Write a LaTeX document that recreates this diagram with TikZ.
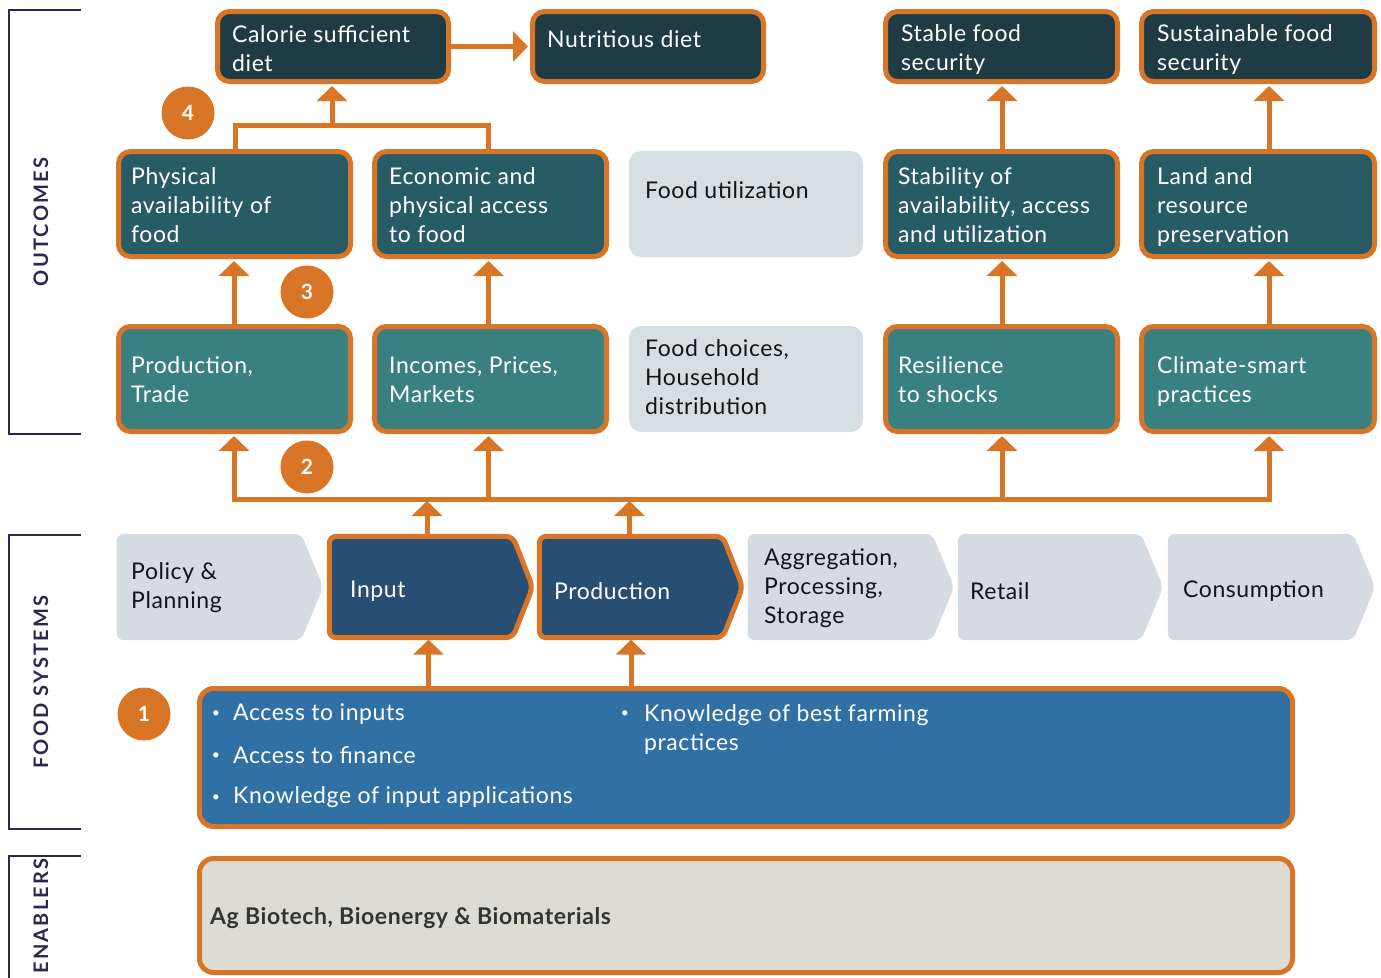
\documentclass[tikz,border=0pt]{standalone}
\usepackage{fontspec}
\setmainfont{Lato}[LetterSpace=2.5]
\newfontfamily\sidefam{Lato}
\usetikzlibrary{arrows.meta}
\definecolor{orng}{HTML}{D97527}
\definecolor{topc}{HTML}{1F3C45}
\definecolor{midc}{HTML}{275B66}
\definecolor{lowc}{HTML}{3A8080}
\definecolor{lightc}{HTML}{D5DFE2}
\definecolor{chevl}{HTML}{D5DBE3}
\definecolor{chevd}{HTML}{284E73}
\definecolor{enabc}{HTML}{3070A4}
\definecolor{biotc}{HTML}{DCDCD3}
\definecolor{brkc}{HTML}{2E2650}
\definecolor{txtd}{HTML}{333333}
\newcommand{\mainf}{\fontsize{23}{29}\selectfont}
\newcommand{\numf}{\fontsize{21}{24}\selectfont\bfseries}
\newcommand{\sidef}{\sidefam\fontsize{20}{24}\selectfont\bfseries\addfontfeature{LetterSpace=11}}
\begin{document}
\begin{tikzpicture}[x=1pt,y=-1pt,
  box/.style={draw=orng, line width=5pt, rounded corners=12pt, inner sep=0pt},
  topbox/.style={box, fill=topc, minimum width=231pt, minimum height=70pt},
  midbox/.style={box, fill=midc, minimum width=232pt, minimum height=105pt},
  lowbox/.style={box, fill=lowc, minimum width=232pt, minimum height=105pt},
  lightbox/.style={fill=lightc, rounded corners=12pt, minimum width=234pt, minimum height=106pt, inner sep=0pt},
  wtxt/.style={text=white, font=\mainf, align=left, anchor=west, inner sep=0pt},
  btxt/.style={text=black!92, font=\mainf, align=left, anchor=west, inner sep=0pt},
  conn/.style={draw=orng, line width=5pt},
  arr/.style={conn, -{Triangle[width=30pt,length=15pt]}, shorten >=2pt},
  num/.style={circle, fill=orng, minimum size=53pt, inner sep=0pt, text=white, font=\numf},
  side/.style={rotate=90, text=brkc, font=\sidef, inner sep=0pt},
  brkl/.style={draw=brkc, line width=2.5pt},
  chbody/.style={inner sep=0pt, minimum height=101pt, minimum width=203pt},
  chlbody/.style={inner sep=0pt, minimum height=106pt},
  chevdark/.style={fill=chevd, draw=orng, line width=5pt, rounded corners=7pt, line join=round},
  chevlight/.style={fill=chevl, rounded corners=7pt},
  bul/.style={text=white, font=\fontsize{14}{16}\selectfont, inner sep=0pt}
]
\useasboundingbox (0,0) rectangle (1381,977);

% side brackets
\draw[brkl] (81,10) -- (9,10) -- (9,434) -- (81,434);
\draw[brkl] (81,535) -- (9,535) -- (9,829) -- (81,829);
\draw[brkl] (81,856) -- (9,856) -- (9,980);
\node[side] (sOut) at (41,222) {OUTCOMES};
\node[side] (sFood) at (41,682) {FOOD SYSTEMS};
\node[side] (sEnab) at (41,916) {ENABLERS};

% top row
\node[topbox] (cal) at (333,46.5) {};
\node[topbox] (nut) at (648,46.5) {};
\node[topbox, minimum width=232pt] (stable) at (1001.5,46.5) {};
\node[topbox, minimum width=233pt] (sust) at (1258,46.5) {};
\node[wtxt] (calt) at (232,49) {Calorie sufficient\\diet};
\node[wtxt] (nutt) at (547,39) {Nutritious diet};
\node[wtxt] (stablet) at (901,50) {Stable food\\security};
\node[wtxt] (sustt) at (1157,50) {Sustainable food\\security};

% middle row
\node[midbox] (phys) at (234.5,204) {};
\node[midbox] (econ) at (490.5,204) {};
\node[lightbox] (util) at (746,204) {};
\node[midbox] (stabil) at (1001.5,204) {};
\node[midbox, minimum width=233pt] (land) at (1258,204) {};
\node[wtxt] (physt) at (131,205) {Physical\\availability of\\food};
\node[wtxt] (econt) at (389,205) {Economic and\\physical access\\to food};
\node[btxt] (utilt) at (645,190) {Food utilization};
\node[wtxt] (stabilt) at (898,205) {Stability of\\availability, access\\and utilization};
\node[wtxt] (landt) at (1157,207) {Land and\\resource\\preservation};

% lower row
\node[lowbox] (prodt) at (234.5,379) {};
\node[lowbox] (inc) at (490.5,379) {};
\node[lightbox] (choice) at (746,379) {};
\node[lowbox] (res) at (1001.5,379) {};
\node[lowbox, minimum width=233pt] (clim) at (1258,379) {};
\node[wtxt] (prodtt) at (131,380) {Production,\\Trade};
\node[wtxt] (inct) at (389,380) {Incomes, Prices,\\Markets};
\node[btxt] (choicet) at (645,377) {Food choices,\\Household\\distribution};
\node[wtxt] (rest) at (898,380) {Resilience\\to shocks};
\node[wtxt] (climt) at (1157,381.5) {Climate-smart\\practices};

% chevrons
\node[chlbody, minimum width=206pt] (pol) at (220,587) {};
\node[chbody] (inp) at (431,587) {};
\node[chbody] (prd) at (641,587) {};
\node[chlbody, minimum width=206pt] (agg) at (851,587) {};
\node[chlbody, minimum width=205pt] (ret) at (1060.5,587) {};
\node[chlbody, minimum width=207pt] (cons) at (1271.5,587) {};
\foreach \n in {pol,agg,ret,cons}{
  \fill[chevlight] (\n.north west) -- ([xshift=-22pt]\n.north east) -- (\n.east) -- ([xshift=-22pt]\n.south east) -- (\n.south west) -- cycle;
}
\foreach \n in {inp,prd}{
  \draw[chevdark] (\n.north west) -- ([xshift=-20pt]\n.north east) -- (\n.east) -- ([xshift=-20pt]\n.south east) -- (\n.south west) -- cycle;
}
\node[btxt] (polt) at (131,588) {Policy \&\\Planning};
\node[wtxt] (inpt) at (350,591) {Input};
\node[wtxt] (prdt) at (554,591) {Production};
\node[btxt] (aggt) at (764,588) {Aggregation,\\Processing,\\Storage};
\node[btxt] (rett) at (970,591) {Retail};
\node[btxt] (const) at (1183,591) {Consumption};

% enabler boxes
\node[box, fill=enabc, rounded corners=14pt, minimum width=1093pt, minimum height=138pt] (enab) at (746,757.5) {};
\node[box, fill=biotc, rounded corners=14pt, minimum width=1093pt, minimum height=114pt] (biot) at (746,915.5) {};
\node[bul] (b1) at (216,714) {•};
\node[bul] (b2) at (216,756) {•};
\node[bul] (b3) at (216,798) {•};
\node[bul] (b4) at (625,714) {•};
\node[wtxt] (e1) at (233,714) {Access to inputs};
\node[wtxt] (e2) at (233,755) {Access to finance};
\node[wtxt] (e3) at (233,797) {Knowledge of input applications};
\node[wtxt] (e4) at (644,729) {Knowledge of best farming\\practices};
\node[anchor=west, inner sep=0pt, text=txtd, font=\fontsize{23}{26}\selectfont\bfseries] (biott) at (210,918) {Ag Biotech, Bioenergy \& Biomaterials};

% numbers
\node[num] (n4) at (188,113) {4};
\node[num] (n3) at (307,292) {3};
\node[num] (n2) at (307,467) {2};
\node[num] (n1) at (144,714) {1};

% connectors
\draw[arr] (cal.east) -- (nut.west);
\coordinate (jL) at (235,125.5);
\coordinate (jR) at (488.5,125.5);
\coordinate (jM) at (332,125.5);
\draw[conn, line join=miter] (phys.north -| jL) -- (jL) -- (jR) -- (econ.north -| jR);
\draw[arr] (jM) -- (cal.south -| jM);

\coordinate (xA) at (234,499);
\coordinate (xB) at (488.5,499);
\coordinate (xC) at (1002,499);
\coordinate (xD) at (1269,499);
\draw[conn, line cap=rect] (xA) -- (xD);
\draw[arr] (xA) -- (prodt.south -| xA);
\draw[arr] (xB) -- (inc.south -| xB);
\draw[arr] (xC) -- (res.south -| xC);
\draw[arr] (xD) -- (clim.south -| xD);
\draw[arr] (prodt.north -| xA) -- (phys.south -| xA);
\draw[arr] (inc.north -| xB) -- (econ.south -| xB);
\draw[arr] (res.north -| xC) -- (stabil.south -| xC);
\draw[arr] (clim.north -| xD) -- (land.south -| xD);
\draw[arr] (stabil.north -| xC) -- (stable.south -| xC);
\draw[arr] (land.north -| xD) -- (sust.south -| xD);

\coordinate (iA) at (427,499);
\coordinate (pA) at (629.5,499);
\draw[arr] (inp.north -| iA) -- (iA);
\draw[arr] (prd.north -| pA) -- (pA);

\coordinate (eI) at (428.5,700);
\coordinate (eP) at (631,700);
\draw[arr] (enab.north -| eI) -- (inp.south -| eI);
\draw[arr] (enab.north -| eP) -- (prd.south -| eP);
\end{tikzpicture}
\end{document}
